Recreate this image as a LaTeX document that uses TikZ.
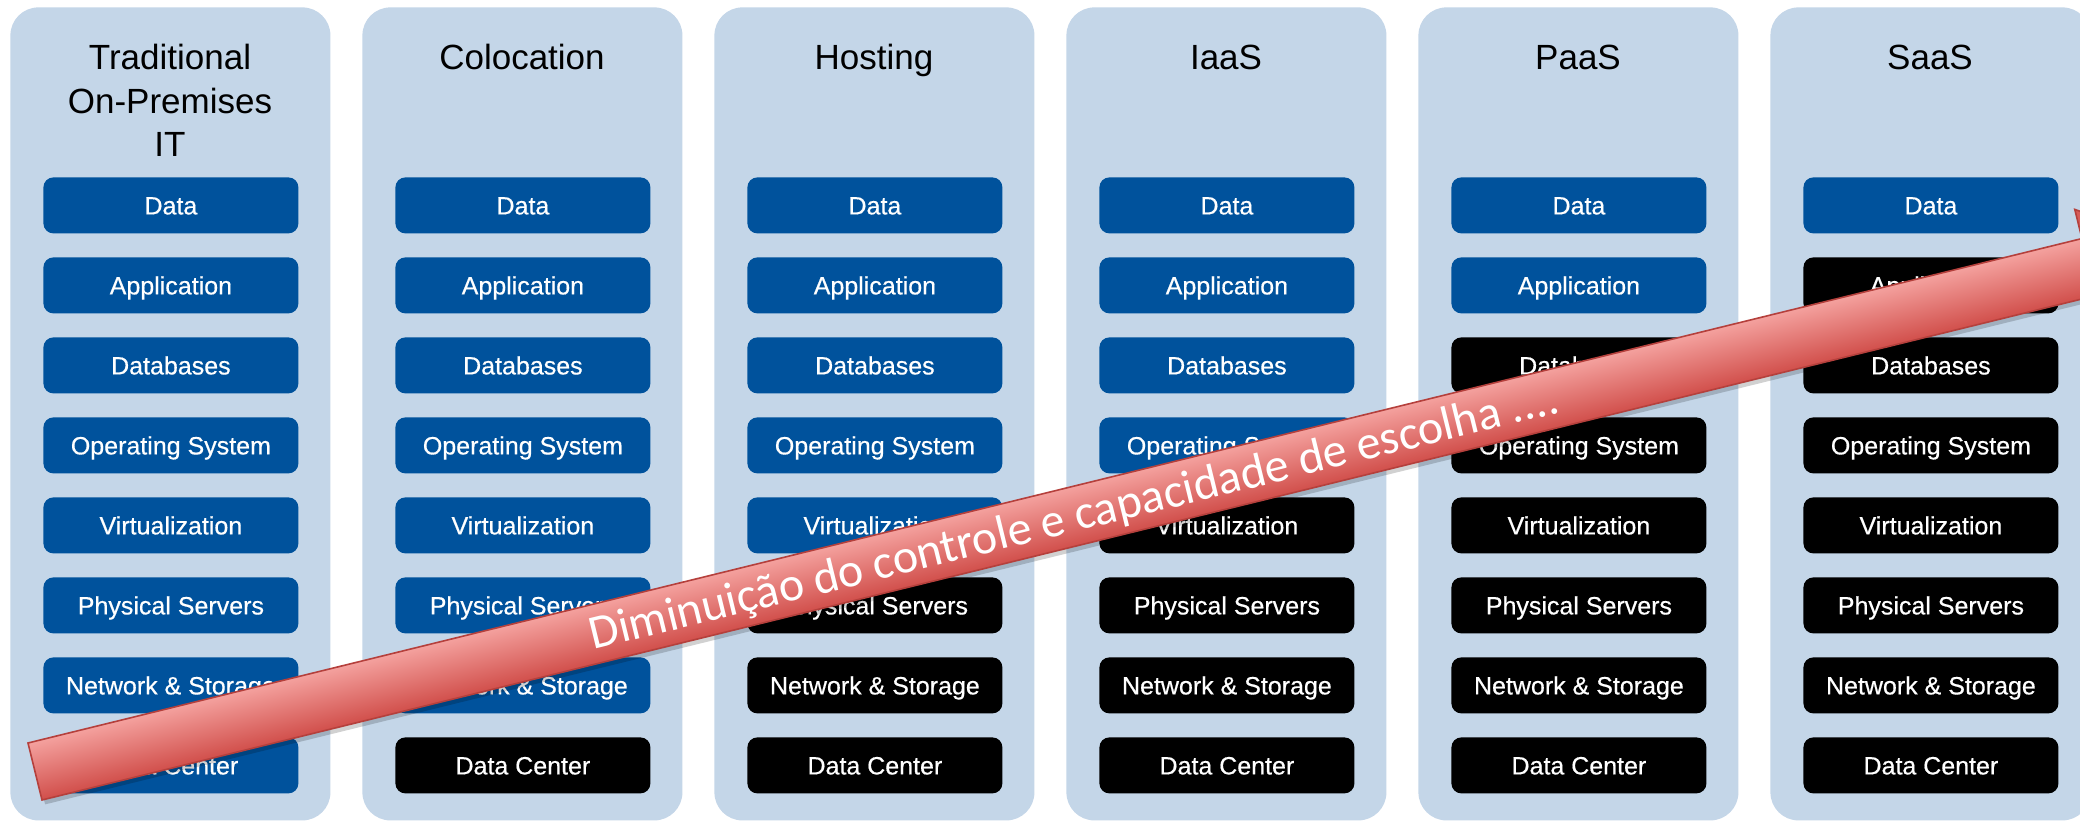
\documentclass[tikz,border=0pt]{standalone}
\usepackage{fontspec}
\setmainfont{Liberation Sans}
\newfontfamily\layerfont[FakeBold=0.5]{Liberation Sans}
\newfontfamily\calibfont{Carlito}
\definecolor{colbg}{HTML}{C4D6E8}
\definecolor{boxblue}{HTML}{00529C}
\definecolor{arrtop}{HTML}{F4A19E}
\definecolor{arrbot}{HTML}{D14F4B}
\definecolor{arrline}{HTML}{B5403C}
\begin{document}
\begin{tikzpicture}[x=0.5pt,y=-0.5pt,
  colbox/.style={draw=none, fill=colbg, rounded corners=14pt, minimum width=160pt,
    minimum height=406.5pt, inner sep=0pt, anchor=north west},
  layerbox/.style={rounded corners=5pt, minimum width=127.5pt, minimum height=28pt,
    inner sep=0pt, text=white, font=\layerfont\fontsize{12.5}{15}\selectfont,
    text height=9pt, text depth=0pt, anchor=north west},
  coltitle/.style={font=\fontsize{17.5}{21}\selectfont, anchor=base, inner sep=0pt, text=black},
  bandtext/.style={font=\calibfont\fontsize{24}{28}\selectfont, text=white, anchor=base west, inner sep=0pt}
]
\useasboundingbox (0,0) rectangle (2080,822);
\clip (0,0) rectangle (2080,822);
\fill[white] (0,0) rectangle (2080,822);

\foreach \c/\nb in {1/8,2/7,3/5,4/4,5/2,6/1}{
  \pgfmathsetmacro\cx{10+352*(\c-1)}
  \node[colbox] (col\c) at (\cx,7) {};
  \foreach \r/\lab in {1/Data,2/Application,3/Databases,4/Operating System,5/Virtualization,6/Physical Servers,7/Network \& Storage,8/Data Center}{
    \pgfmathsetmacro\ry{177+80*(\r-1)}
    \ifnum\r>\nb\relax \def\fc{black}\else\def\fc{boxblue}\fi
    \node[layerbox, fill=\fc] (b\c-\r) at (\cx+33,\ry) {\lab};
  }
}

\node[coltitle] (t1a) at (170,70) {Traditional};
\node[coltitle] (t1b) at (170,113.5) {On-Premises};
\node[coltitle] (t1c) at (170,157) {IT};
\node[coltitle] (t2) at (522,70) {Colocation};
\node[coltitle] (t3) at (874,70) {Hosting};
\node[coltitle] (t4) at (1226,70) {IaaS};
\node[coltitle] (t5) at (1578,70) {PaaS};
\node[coltitle] (t6) at (1930,70) {SaaS};

\begin{scope}[transform canvas={shift={(28,743)}, rotate=13.8}]
  \fill[black, opacity=0.18] (2,5) -- (2117,5) -- (2117,-25) -- (2207,34.35) -- (2117,93.7) -- (2117,63.7) -- (2,63.7) -- cycle;
  \fill[arrbot!85!arrtop] (2115,-30) -- (2205,29.35) -- (2115,88.7) -- cycle;
  \shade[top color=arrtop, bottom color=arrbot] (0,0) rectangle (2116,58.7);
  \draw[arrline, line width=0.8pt, line join=miter] (0,0) coordinate (aS) -- (2115,0) -- (2115,-30) -- (2205,29.35) coordinate (aT) -- (2115,88.7) -- (2115,58.7) -- (0,58.7) -- cycle;
  \node[bandtext] (lbl) at (571,44.5) {Diminuição do controle e capacidade de escolha ....};
\end{scope}
\end{tikzpicture}
\end{document}
